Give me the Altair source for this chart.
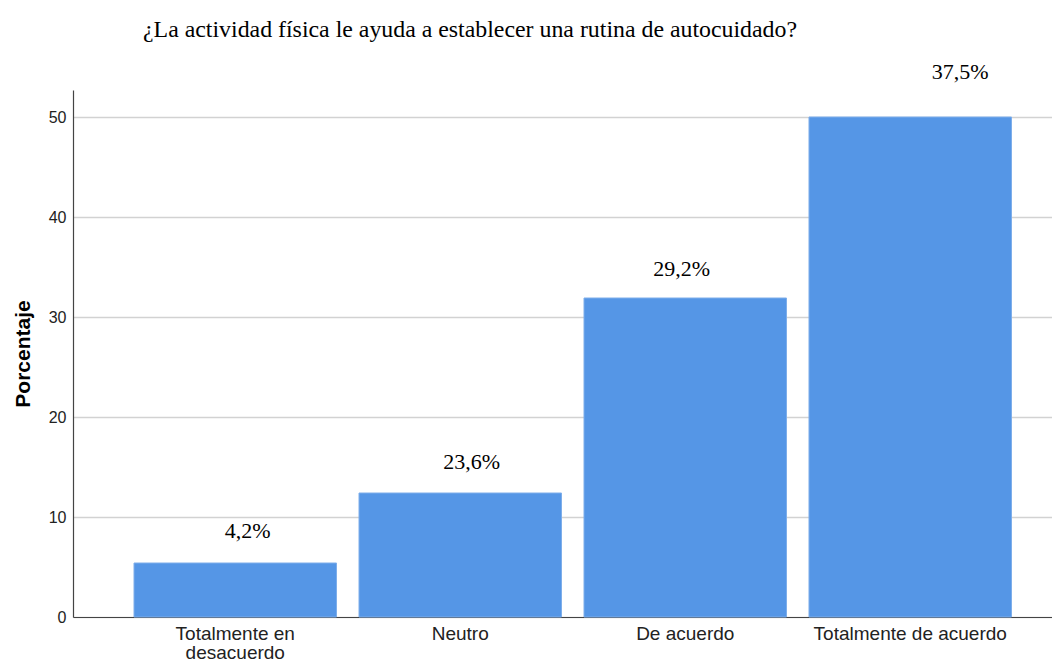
import altair as alt
import pandas as pd

categories = ["Totalmente en desacuerdo", "Neutro", "De acuerdo", "Totalmente de acuerdo"]
bar_values = [5.4, 12.4, 31.9, 50.0]
bar_labels = ["4,2%", "23,6%", "29,2%", "37,5%"]
tick_values = [0, 10, 20, 30, 40, 50]
title_text = "¿La actividad física le ayuda a establecer una rutina de autocuidado?"

df = pd.DataFrame({"cat": categories, "val": bar_values, "lab": bar_labels})

x_scale = alt.Scale(domain=categories, paddingInner=0.1, paddingOuter=0.2256, align=0.601)

x_enc = alt.X(
    "cat:N",
    sort=categories,
    title=None,
    scale=x_scale,
    axis=alt.Axis(
        labelAngle=0,
        ticks=False,
        domainColor="#444444",
        domainWidth=1.2,
        labelFont="Liberation Sans",
        labelFontSize=19,
        labelColor="#222222",
        labelPadding=7,
        labelLineHeight=19.5,
        labelLimit=400,
        labelExpr="datum.label == 'Totalmente en desacuerdo' ? ['Totalmente en', 'desacuerdo'] : datum.label",
        grid=False,
    ),
)
y_enc = alt.Y(
    "val:Q",
    scale=alt.Scale(domain=[0, 52.7], nice=False),
    axis=alt.Axis(
        title="Porcentaje",
        values=tick_values,
        ticks=False,
        domainColor="#444444",
        domainWidth=1.2,
        gridColor="#d2d2d2",
        gridWidth=1.5,
        labelFont="Liberation Sans",
        labelFontSize=16,
        labelColor="#222222",
        labelPadding=7,
        titleFont="Liberation Sans",
        titleFontSize=21,
        titleFontWeight="bold",
        titleColor="#000000",
        titlePadding=15,
    ),
)

bars = alt.Chart(df).mark_bar(color="#5596E6", stroke="#7eaeea", strokeWidth=1).encode(x=x_enc, y=y_enc)

# label placement offsets as seen in the reference (per bar)
label_offsets = {
    "Totalmente en desacuerdo": (12.5, -25.5),
    "Neutro": (11.5, -24.5),
    "De acuerdo": (-3.5, -22.5),
    "Totalmente de acuerdo": (50, -38.5),
}
text_layers = []
for cat, (ddx, ddy) in label_offsets.items():
    text_layers.append(
        alt.Chart(df)
        .transform_filter(alt.datum.cat == cat)
        .mark_text(
            font="Liberation Serif", fontSize=22, color="#000000",
            dx=ddx, dy=ddy, baseline="alphabetic",
        )
        .encode(x=alt.X("cat:N", sort=categories, scale=x_scale), y="val:Q", text="lab:N")
    )

chart = (
    alt.layer(bars, *text_layers)
    .properties(
        width=979,
        height=527,
        autosize="none",
        padding={"left": 65, "top": 82, "right": 0, "bottom": 46},
        title=alt.TitleParams(
            title_text,
            anchor="start",
            frame="group",
            dx=70,
            font="Liberation Serif",
            fontSize=23.85,
            fontWeight="normal",
            color="#000000",
            baseline="alphabetic",
            offset=0,
        ),
    )
    .configure_view(stroke=None)
)

chart.save("out.html", embed_options={"renderer": "svg", "actions": False})
